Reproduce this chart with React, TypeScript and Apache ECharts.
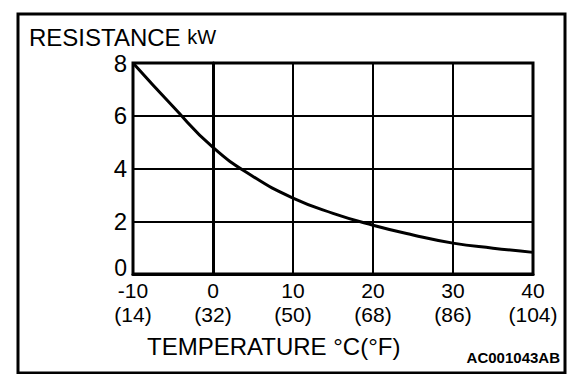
import React, { useEffect, useRef } from "react";
import * as echarts from "echarts";

const tempC = [-10, -5, 0, 5, 10, 15, 20, 25, 30, 35, 40];
const resistance = [8.0, 6.35, 4.8, 3.7, 2.88, 2.3, 1.85, 1.48, 1.17, 0.98, 0.82];
const tickC = ["-10", "0", "10", "20", "30", "40"];
const tickF = ["(14)", "(32)", "(50)", "(68)", "(86)", "(104)"];

const FONT = "'Liberation Sans', Arial, Helvetica, sans-serif";

const labelFor = (arr: string[]) => (v: number) => {
  const i = tickC.indexOf(String(v));
  return i >= 0 ? arr[i] : "";
};

export default function App() {
  const ref = useRef<HTMLDivElement>(null);
  useEffect(() => {
    if (!ref.current) return;
    const chart = echarts.init(ref.current, undefined, { renderer: "svg" });
    chart.setOption({
      animation: false,
      backgroundColor: "#fff",
      grid: {
        left: 133,
        right: 43,
        top: 63,
        bottom: 108,
        show: true,
        borderColor: "#000",
        borderWidth: 3,
      },
      xAxis: [
        {
          type: "value",
          min: -10,
          max: 40,
          interval: 10,
          axisLine: { show: true, lineStyle: { color: "#000", width: 3 } },
          axisTick: { show: false },
          splitLine: { show: true, lineStyle: { color: "#000", width: 2 } },
          axisLabel: {
            margin: 4,
            color: "#000",
            fontFamily: FONT,
            fontSize: 21,
            lineHeight: 24,
            formatter: labelFor(tickC),
          },
        },
        {
          type: "value",
          position: "bottom",
          offset: 24,
          min: -10,
          max: 40,
          interval: 10,
          axisLine: { show: false },
          axisTick: { show: false },
          splitLine: { show: false },
          axisLabel: {
            margin: 4,
            color: "#000",
            fontFamily: FONT,
            fontSize: 21,
            lineHeight: 24,
            formatter: labelFor(tickF),
          },
        },
      ],
      yAxis: {
        type: "value",
        min: 0,
        max: 8,
        interval: 2,
        axisLine: { show: true, lineStyle: { color: "#000", width: 3 } },
        axisTick: { show: false },
        splitLine: { show: true, lineStyle: { color: "#000", width: 2 } },
        axisLabel: {
          margin: 6,
          color: "#000",
          fontFamily: FONT,
          fontSize: 24,
          formatter: (v: number) => (v === 0 ? "{z|0}" : String(v)),
          rich: {
            z: { fontFamily: FONT, fontSize: 23, lineHeight: 22, color: "#000", padding: [0, 0, 12, 0] },
          },
        },
      },
      series: [
        {
          type: "line",
          xAxisIndex: 0,
          data: tempC.map((t, i) => [t, resistance[i]]),
          smooth: true,
          showSymbol: false,
          lineStyle: { color: "#000", width: 3 },
        },
      ],
      graphic: [
        {
          type: "rect",
          shape: { x: 18, y: 14, width: 547, height: 359 },
          style: { fill: "none", stroke: "#000", lineWidth: 3 },
          silent: true,
        },
        {
          type: "text",
          x: 29,
          y: 37,
          style: {
            text: "{a|RESISTANCE }{b|kW}",
            verticalAlign: "middle",
            rich: {
              a: { fontFamily: FONT, fontSize: 24, fill: "#000" },
              b: { fontFamily: FONT, fontSize: 20, fill: "#000" },
            },
          },
        },
        {
          type: "text",
          x: 147,
          y: 346,
          style: {
            text: "TEMPERATURE °C(°F)",
            fontFamily: FONT,
            fontSize: 24,
            fill: "#000",
            verticalAlign: "middle",
          },
        },
        {
          type: "text",
          x: 560,
          y: 357,
          style: {
            text: "AC001043AB",
            fontFamily: FONT,
            fontSize: 15,
            fontWeight: "bold",
            fill: "#000",
            align: "right",
            verticalAlign: "middle",
          },
        },
      ],
    });
    return () => chart.dispose();
  }, []);
  return <div ref={ref} style={{ width: 576, height: 382, margin: -8 }} />;
}
